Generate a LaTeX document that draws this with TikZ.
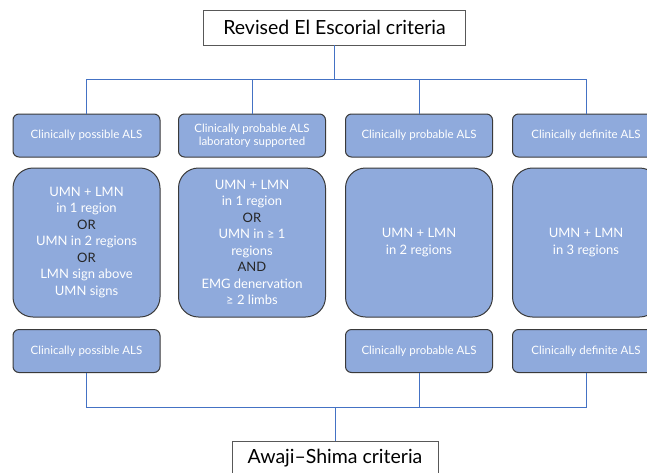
\documentclass[tikz,border=0pt]{standalone}
\usepackage{fontspec}
\setmainfont{Lato}
\definecolor{boxblue}{HTML}{8FAADC}
\definecolor{linkblue}{HTML}{4472C4}
\definecolor{edgegray}{HTML}{3A3A3A}
\definecolor{wordgray}{HTML}{262626}
\newcommand{\joinword}[1]{{\color{wordgray}#1}}
\begin{document}
\begin{tikzpicture}[x=1pt, y=-1pt,
        crit/.style={draw=edgegray!85, fill=white, line width=0.9pt, minimum width=262pt, minimum height=35pt, inner sep=0pt, font=\fontsize{19.5}{22}\selectfont},
        catbox/.style={draw=edgegray, fill=boxblue, rounded corners=6pt, line width=1pt, minimum width=147pt, minimum height=43pt, inner sep=0pt, text=white, align=center, font=\fontsize{11.5}{13.5}\selectfont},
        signbox/.style={catbox, rounded corners=20pt, minimum height=149pt, font=\fontsize{13}{16.5}\selectfont},
        link/.style={draw=linkblue, line width=1pt}]
        \useasboundingbox (0,0) rectangle (647,472);
        % criteria boxes
        \node[crit] (escorial) at (334.5,27.5) {Revised El Escorial criteria};
        \node[crit, minimum width=206pt] (awaji) at (335,458.5) {Awaji--Shima criteria};
        % El Escorial categories
        \node[catbox] (e1) at (86.5,135.5) {Clinically possible ALS};
        \node[catbox] (e2) at (252,135.5)  {Clinically probable ALS\\laboratory supported};
        \node[catbox] (e3) at (419,135.5)  {Clinically probable ALS};
        \node[catbox] (e4) at (586,135.5)  {Clinically definite ALS};
        % clinical signs
        \node[signbox] (r1) at (86.5,242.5) {UMN + LMN\\in 1 region\\\joinword{OR}\\UMN in 2 regions\\\joinword{OR}\\LMN sign above\\UMN signs};
        \node[signbox] (r2) at (252,242.5)  {UMN + LMN\\in 1 region\\\joinword{OR}\\UMN in ≥ 1\\regions\\\joinword{AND}\\EMG denervation\\≥ 2 limbs};
        \node[signbox] (r3) at (419,242.5)  {UMN + LMN\\in 2 regions};
        \node[signbox] (r4) at (586,242.5)  {UMN + LMN\\in 3 regions};
        % Awaji categories
        \node[catbox] (a1) at (86.5,351) {Clinically possible ALS};
        \node[catbox] (a3) at (419,351)  {Clinically probable ALS};
        \node[catbox] (a4) at (586,351)  {Clinically definite ALS};
        % tree connectors
        \foreach \n in {e1,e2,e3,e4}
            \draw[link] (escorial.south) -- ++(0,34) -| (\n.north);
        \foreach \n in {a1,a3,a4}
            \draw[link] (\n.south) -- ++(0,34) -| (awaji.north);
\end{tikzpicture}
\end{document}
